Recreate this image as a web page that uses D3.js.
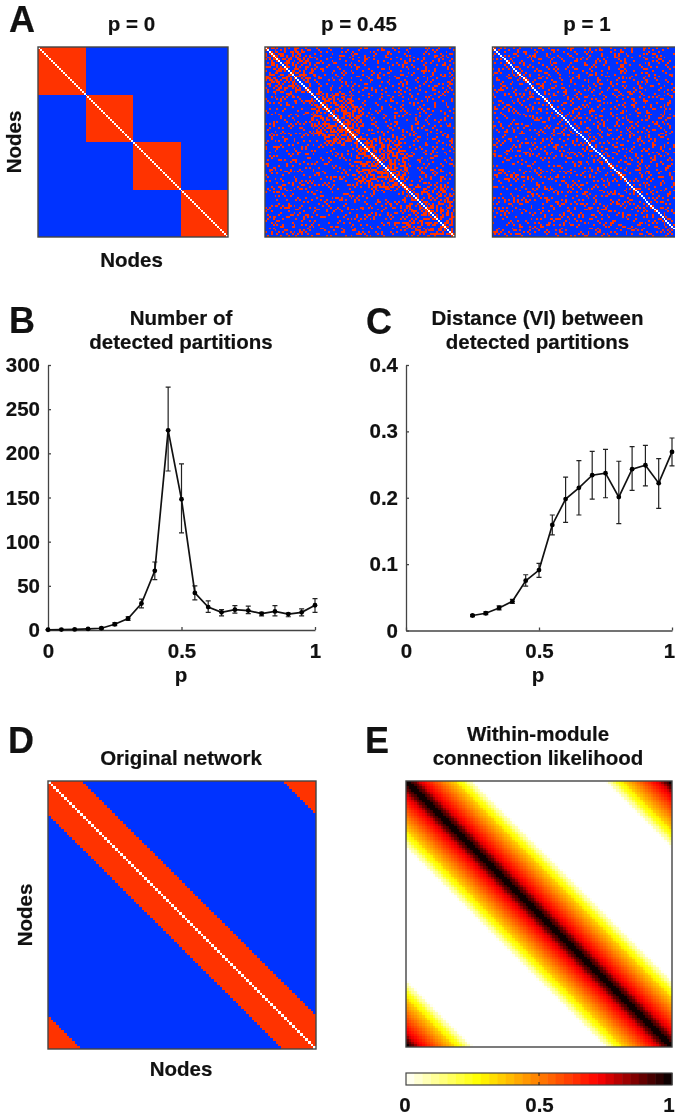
<!DOCTYPE html>
<html><head><meta charset="utf-8">
<script src="https://cdnjs.cloudflare.com/ajax/libs/d3/7.8.5/d3.min.js"></script>
<style>html,body{margin:0;padding:0;background:#fff;overflow:hidden}
svg{display:block;filter:blur(0.35px)}
text{font-family:"Liberation Sans",Arial,sans-serif;font-weight:700;fill:#111;stroke:#111;stroke-width:.2}
</style></head><body><div id="c"></div>
<script>
const pValues=[0,.05,.1,.15,.2,.25,.3,.35,.4,.45,.5,.55,.6,.65,.7,.75,.8,.85,.9,.95,1];
const partitions=[0.3,0.5,0.7,1.2,2,6.5,13,30,67,226,148,42,26,20,23,22,18.5,21,18,20,28];
const partitionsHi=[0.5,0.8,1,1.6,3,8,15,35,77,275,188,50,33,23,27.5,27,20,27.5,19,24,35.5];
const partitionsLo=[0.1,0.2,0.4,0.8,1,5,11,25,57,180,110,34,20,16,19,18.5,16,16,15,16,20];
const viP=[.25,.3,.35,.4,.45,.5,.55,.6,.65,.7,.75,.8,.85,.9,.95,1];
const vi=[.0226,.026,.034,.044,.075,.091,.159,.198,.215,.234,.237,.201,.243,.249,.222,.269];
const viHi=[.024,.028,.037,.047,.084,.101,.174,.231,.256,.27,.273,.255,.277,.279,.259,.29];
const viLo=[.021,.024,.031,.041,.067,.08,.144,.163,.174,.198,.2,.161,.211,.218,.184,.248];
const moduleSizes=[25,25,25,25];
const ringHalfWidth=12;
const likelihoodByDistance=[1,.98,.93,.88,.83,.78,.74,.71,.67,.64,.61,.58,.55,.52,.49,.46,.42,.39,.35,.31,.27,.22,.17,.12,.07,.03];
const hotStops=["#ffffff","#ffff00","#ff0000","#000000"];
const hotDomain=[0,.27,.72,1];
const rowsP45=[
"5a29c41040802c0412080a104","c4a1930820104016082004a01","1626d80480a20140c21008410","a9c2602010058020a04012086",
"6d2a50401c208410028006501","a14c9a020084a018402104882","36c6a1081020c402108901420","c19360410204812004a209044",
"3a4d1a0c0410108460090218","d2912040290800128410264a","58a6108204c01040a2080081","e1c4a60100820640108840a4",
"b28c20844108021003a4010","6c98010a20048c012108042","a3c61044010920184008a21","1e8280200c41048201106480",
"970c10840218060084201a","8a2049002180404104802c","661000a4010481208900c4","b10880210c0042a0101460",
"90410924008108042608a","a0821040c810221008442","708200210a4010840c120","50c010840210a40081286",
"5a96c40204010880441","c4ae2a1080c204010a0","6a98c4020410840a100","a36a5c4008201104802",
"1c9ae080130802404208","b2c5c1020040a804101","e86a6081040821041004","6a1d3a00421004040881",
"c6a951040880a6001a","5ae36028014010884","c87a52100c2048021","7c6a30820049010204",
"a5ae4010a8042008180","6c9c1420801040221","b36a0804021084a02","c5960210c00841004",
"7a90c0240182014a","d2b02088041048c","5e40106204a08012","a9c28010840c2004",
"6c01480a20108041","b50c2000904221","d8402108a04048","a20081440c0218",
"7a6ac58104c0210","c5a96a0280106","6e8c534008242","a5a6ce020c014",
"7c6a50840a02","a4c9a0120441","c6ae3c008804","5a9760410a21",
"c6d5a2090104","6a9c5c006008","b6c4e0218042","5d6a90c40220",
"a68c0408108","c7a50120860","6a9c8040412","5ec60a82001",
"b9604188040","c6a0204c021","7a5030a0408","a6c008412c0",
"d90490c0204","5a0210a4108","e4440080906","6801a208042",
"4c814a0","a1c62a8","3a184d2","c4128e1",
"a3c960","1a6295","c831a6","692a18",
"a14a9","9c12e","2a9c4","c5a16",
"7a8c","a2d1","1ac9","c49a",
"a5a","6c3","a86","c1a",
"3a","a6","58","d2",
"a","6","9","5"];
const rowsP1=[
"4a1208c4016090820441a2084","10840221a04012c0904108406","a204c1008410a80218402100c","6018420a01084040a2014c012",
"284160820c01040a104028041","8102a0490212008c0410a2088","44008c1080a41202400c18021","0a104020418029014200a4410",
"128082c04082104600a108442","4090210080c42018842010221","0c240841200a041802120908","820104a21810042401c00481",
"102c0408108401a200840a214","6401820a042081402c010242","0908410041a4080102406a18","a1022008c20140840a102108",
"40c8102401002a8104004c2","22010840a1884020c210081","8410c04021020c0a4008412","01a2081004c240088102a4",
"460408122010a0418200c2","0a18c00108404260081024","2040210a408c010810a441","8102604084021a40021084",
"14820a008110c2040880","00c4102420a8010126004","a20108c01041042a0208","4801240a20086100c041",
"2a04081804021c004a11","80620102a0410820c400","10841408028601028042","c2004a100842110a0088",
"041a082240080c140210","50201c400a104020a88","08a41002180c6020104","a1048202408010a4c022",
"24808c10208a0414010","01642004a00218c0884","8a010482102c010a420","402812040c80a400184",
"1204a048100628010","c80120a048210414c","04610802a100840a2","a0108641004c20118",
"2c040108a2012084","4110a024080c4201","8208c10a02110408","014402084a0c0210",
"a201480c1408120","4c08010a24001084","10a4402108086a0","820118040c21004",
"240c02008a10441","0180a412084020c","6402082c040a108","01182400a114200",
"a840102108c4020","0c041204a010884","2102881404206","4810420c0a0110",
"0260a10802c04","a0184024210088","14008a20c4102","8120440180a22",
"041c02104084","a200608120c1","1084a1040220","4c0210048a08",
"80221c200418","21048020a4c0","0a8104062001","c0140a108208",
"24a0810c402","808402a0141","1c2010844a0","4008a106021",
"a12048008c","0480c2120a","60108a4002","02a4100c41",
"8408102a4","12c040881","a0142180c","48002a014",
"0c8104a2","21206008","80a4190c","4210c024",
"a0480c1","1082a40","0c41020","42108a8",
"8a0421","140c82","2a1004","800a61",
"41c","a02","086","1a4"];
const W=675,H=1116,N=100;
const nodes=d3.range(N);
const BLUE="#0033ff",RED="#ff3300",EDGE="#444";
const svg=d3.select("#c").append("svg").attr("width",W).attr("height",H);
const hot=d3.scaleLinear().domain(hotDomain).range(hotStops).interpolate(d3.interpolateRgb);
const levels=32;
const qHot=v=>hot((Math.min(levels-1,Math.floor(v*levels))+.5)/levels);
function bit(rows,i,j){const a=Math.min(i,j),b=Math.max(i,j);
  const ch=rows[a][(b>>2)-(a>>2)]||"0";
  return (parseInt(ch,16)>>(3-(b&3)))&1;}
function modOf(i){let c=0;for(let m=0;m<moduleSizes.length;m++){c+=moduleSizes[m];if(i<c)return m;}return 0;}
function ringD(i,j){const d=Math.abs(i-j);return Math.min(d,N-d);}
const snap=v=>Math.round(v);
function matrix(x0,y0,size,fill,bg){
  const x=d3.scaleBand(nodes,[x0,x0+size]),y=d3.scaleBand(nodes,[y0,y0+size]);
  const g=svg.append("g");
  g.append("rect").attr("x",x0).attr("y",y0).attr("width",size).attr("height",size).attr("fill",bg);
  const cells=[];
  for(const i of nodes)for(const j of nodes){const c=fill(i,j);if(c)cells.push({i,j,c});}
  g.append("g").attr("shape-rendering","crispEdges").selectAll("rect").data(cells).join("rect")
   .attr("x",d=>snap(x(d.j))).attr("y",d=>snap(y(d.i)))
   .attr("width",d=>snap(x(d.j)+x.bandwidth())-snap(x(d.j)))
   .attr("height",d=>snap(y(d.i)+y.bandwidth())-snap(y(d.i)))
   .attr("fill",d=>d.c);
  g.append("rect").attr("x",x0).attr("y",y0).attr("width",size).attr("height",size)
   .attr("fill","none").attr("stroke",EDGE).attr("stroke-width",1.4);
}
const net=(red)=>(i,j)=>i===j?"#fff":(red(i,j)?RED:null);
matrix(38,47,190,net((i,j)=>modOf(i)===modOf(j)),BLUE);
matrix(265,47,190,net((i,j)=>bit(rowsP45,i,j)),BLUE);
matrix(492.5,47,190,net((i,j)=>bit(rowsP1,i,j)),BLUE);
matrix(48,781,268,net((i,j)=>ringD(i,j)<=ringHalfWidth),BLUE);
matrix(406,781,266,(i,j)=>{const v=likelihoodByDistance[ringD(i,j)];return v?qHot(v):null;},"#fff");

function label(t,x,y,size,rot){const e=svg.append("text").text(t).attr("font-size",size).attr("text-anchor","middle");
  if(rot)e.attr("transform",`translate(${x},${y}) rotate(-90)`);else e.attr("x",x).attr("y",y);return e;}
[["A",22,32],["B",22,333],["C",379,334],["D",21,753],["E",377,753]].forEach(d=>label(d[0],d[1],d[2],36));
const fs=20.5;
label("p = 0",131.5,31,fs);label("p = 0.45",359,31,fs);label("p = 1",587,31,fs);
label("Nodes",131.5,267,fs);label("Nodes",21,142,fs,true);
label("Number of",181,325,fs);label("detected partitions",181,349,fs);
label("Distance (VI) between",537.5,325,fs);label("detected partitions",537.5,349,fs);
label("p",181,682,fs);label("p",538,682,fs);
label("Original network",181,765,fs);label("Nodes",181,1076,fs);label("Nodes",32,915,fs,true);
label("Within-module",538,741,fs);label("connection likelihood",538,765,fs);

function chart(xr,yr,dom,ticks,fmt,ps,vals,hi,lo){
  const x=d3.scaleLinear([0,1],xr),y=d3.scaleLinear(dom,yr);
  const g=svg.append("g");
  const ax=g.append("g").attr("transform",`translate(0,${yr[0]})`).call(d3.axisBottom(x).tickValues([0,.5,1]).tickFormat(d3.format("~g")).tickSize(-3).tickSizeOuter(0).tickPadding(13));
  const ay=g.append("g").attr("transform",`translate(${xr[0]},0)`).call(d3.axisLeft(y).tickValues(ticks).tickFormat(fmt).tickSize(-3).tickSizeOuter(0).tickPadding(8));
  [ax,ay].forEach(a=>{a.selectAll("path,line").attr("stroke",EDGE).attr("stroke-width",1.3);
    a.selectAll("text").attr("font-size",fs).attr("font-family",'"Liberation Sans",Arial,sans-serif').attr("font-weight",700).attr("fill","#111");});
  ax.selectAll("text").filter(d=>d===1&&xr[1]>660).attr("dx",xr[0]>300?-3:0);
  const pts=ps.map((p,i)=>({p,v:vals[i],h:hi[i],l:lo[i]}));
  const eb=g.append("g").attr("stroke","#222").attr("stroke-width",1.2).attr("fill","none");
  eb.selectAll("path").data(pts).join("path").attr("d",d=>{const a=x(d.p),t=y(d.h),b=y(d.l);
    return `M${a-2.5},${t}H${a+2.5}M${a},${t}V${b}M${a-2.5},${b}H${a+2.5}`;});
  g.append("path").datum(pts).attr("fill","none").attr("stroke","#111").attr("stroke-width",1.7)
   .attr("d",d3.line().x(d=>x(d.p)).y(d=>y(d.v)));
  g.append("g").selectAll("circle").data(pts).join("circle").attr("cx",d=>x(d.p)).attr("cy",d=>y(d.v)).attr("r",2.4).attr("fill","#000");
}
chart([48,315],[630,365],[0,300],d3.range(0,301,50),d3.format("d"),pValues,partitions,partitionsHi,partitionsLo);
chart([406,672],[630.5,365],[0,.4],[0,.1,.2,.3,.4],d3.format("~g"),viP,vi,viHi,viLo);

const cbSteps=d3.range(levels);
const cbX=d3.scaleBand(cbSteps,[406,672]);
const cb=svg.append("g");
cb.selectAll("rect").data(cbSteps).join("rect").attr("x",d=>cbX(d)).attr("y",1073).attr("width",cbX.bandwidth()+.5).attr("height",12).attr("fill",d=>qHot((d+.5)/levels));
cb.append("rect").attr("x",406).attr("y",1073).attr("width",266).attr("height",12).attr("fill","none").attr("stroke",EDGE).attr("stroke-width",1.2);
const cbS=d3.scaleLinear([0,1],[406,672]);
[0,.5,1].forEach(v=>label(d3.format("~g")(v),cbS(v)+(v===1?-3:(v===0?-1:.5)),1112,fs));
cb.append("path").attr("d",`M${cbS(.5)},1073v3M${cbS(.5)},1085v-3`).attr("stroke","#222").attr("stroke-width",1);
</script></body></html>
